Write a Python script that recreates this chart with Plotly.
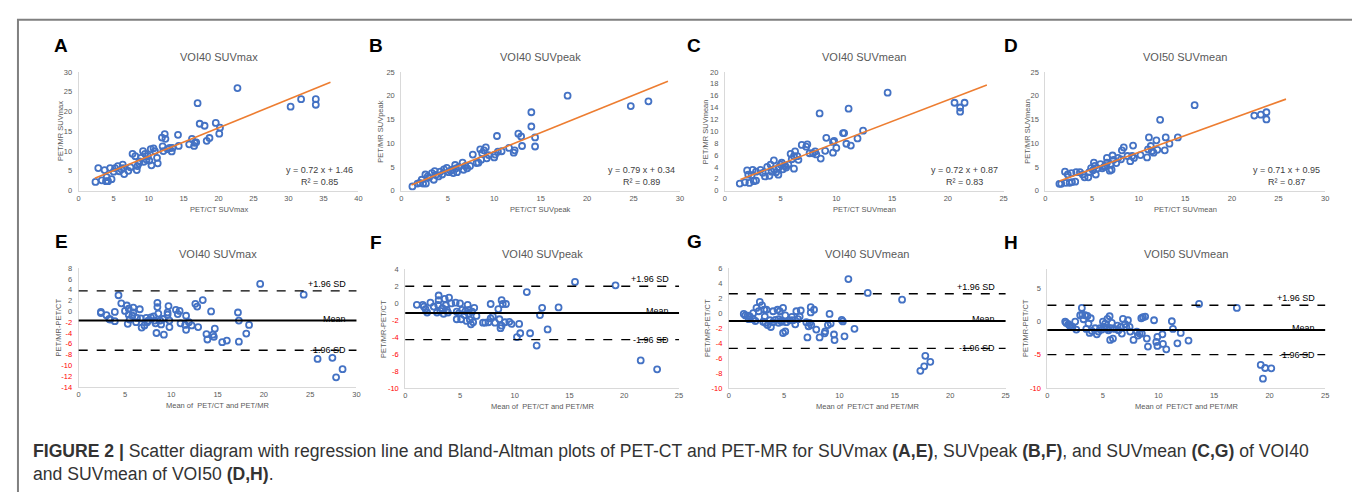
import plotly.graph_objects as go

####### DADOS #######
# A - VOI40 SUVmax: PET/CT (x) contra PET/MR (y)
a_x = [2.4, 2.8, 3.3, 3.7, 3.9, 4.0, 4.2, 4.5, 4.7, 5.0, 5.2, 5.6, 5.8, 6.1, 6.3, 6.5, 6.4,
       7.1, 7.4, 7.7, 8.1, 8.3, 8.4, 8.6, 8.7, 8.9, 9.2, 9.3, 9.5, 9.7, 9.9, 10.1, 10.3,
       10.4, 10.7, 10.9, 11.2, 11.3, 11.9, 12.0, 12.3, 12.4, 12.1, 12.7, 13.0, 13.3, 13.4,
       14.2, 14.3, 15.8, 16.2, 16.5, 16.6, 16.8, 17.0, 17.3, 18.0, 18.3, 18.7, 19.6, 20.1,
       20.2, 22.7, 30.3, 31.8, 33.9, 33.9]
a_y = [2.2, 5.7, 2.6, 5.2, 2.4, 3.4, 2.4, 5.7, 2.9, 4.8, 5.7, 6.2, 4.9, 5.4, 6.6, 4.2, 5.7,
       5.0, 5.9, 9.3, 8.7, 5.2, 6.2, 6.9, 7.4, 8.3, 10.0, 7.3, 9.3, 7.9, 8.7, 7.6, 10.5,
       6.4, 10.7, 10.0, 8.3, 6.9, 13.4, 11.2, 14.3, 13.1, 10.0, 10.5, 10.8, 9.9, 10.8,
       14.1, 11.3, 11.7, 13.1, 11.3, 12.1, 12.2, 22.1, 16.9, 16.4, 12.6, 13.3, 17.1, 14.4,
       15.9, 25.9, 21.2, 23.1, 23.1, 21.7]
a_coef = [0.72, 1.46]
a_lim = [2.3, 36.0]
a_r2 = 0.85

# B - VOI40 SUVpeak
b_x = [1.2, 1.75, 2.0, 2.2, 2.35, 2.6, 2.65, 2.85, 3.0, 3.3, 3.5, 3.6, 3.7, 4.0, 4.2, 4.4,
       4.6, 4.9, 5.1, 5.3, 5.5, 5.6, 5.8, 5.9, 6.0, 6.2, 6.6, 6.7, 6.9, 7.1, 7.4, 7.7, 8.1,
       8.3, 8.5, 8.6, 8.7, 8.9, 9.1, 9.2, 9.4, 10.0, 10.1, 10.3, 10.4, 10.8, 11.6, 12.1,
       12.2, 12.6, 12.9, 13.0, 14.0, 14.0, 14.4, 14.4, 17.9, 24.7, 26.6]
b_y = [0.9, 1.5, 1.65, 2.3, 1.5, 3.4, 1.5, 3.0, 2.75, 3.7, 2.3, 4.1, 3.3, 3.0, 4.0, 3.4,
       4.5, 4.8, 3.9, 4.2, 4.4, 3.7, 5.4, 4.7, 3.9, 5.0, 5.9, 4.4, 5.2, 4.7, 5.2, 7.6, 5.8,
       5.9, 8.7, 6.5, 7.9, 8.5, 9.1, 6.8, 7.5, 7.0, 7.6, 11.5, 8.2, 8.3, 9.0, 8.0,
       8.5, 12.0, 11.4, 9.4, 16.5, 13.5, 11.2, 9.3, 20.0, 17.8, 18.8]
b_coef = [0.79, 0.34]
b_lim = [1.1, 28.7]
b_r2 = 0.89

# C - VOI40 SUVmean
c_x = [1.34, 1.8, 2.0, 2.1, 2.2, 2.4, 2.5, 2.6, 2.8, 2.8, 3.2, 3.4, 3.6, 3.8, 4.0, 4.1,
       4.2, 4.4, 4.4, 4.6, 4.8, 4.85, 5.0, 5.1, 5.2, 5.4, 5.5, 5.7, 5.9, 6.0, 6.2, 6.2,
       6.3, 6.5, 6.6, 6.9, 7.3, 7.4, 7.6, 7.9, 8.1, 8.2, 8.5, 8.6, 9.0, 9.1, 9.7, 9.7,
       9.8, 10.0, 10.6, 10.7, 10.9, 11.1, 11.3, 11.9, 12.4, 14.6, 20.6, 21.1, 21.1, 21.5]
c_y = [1.2, 1.4, 3.4, 2.7, 1.3, 2.6, 3.5, 1.6, 1.7, 3.2, 3.5, 3.0, 2.4, 4.0, 2.5, 4.4,
       3.2, 5.1, 3.6, 3.1, 2.7, 3.9, 4.4, 4.7, 3.6, 4.2, 3.9, 4.4, 6.2, 5.3, 5.8, 3.7,
       6.6, 5.8, 5.2, 7.7, 7.4, 7.8, 6.3, 6.3, 6.6, 6.1, 13.0, 5.4, 6.7, 8.9, 8.2, 6.4,
       8.4, 7.2, 9.7, 9.7, 7.9, 13.8, 7.6, 8.8, 10.1, 16.5, 14.8, 14.0, 13.3, 14.8]
c_coef = [0.72, 0.87]
c_lim = [1.4, 23.5]
c_r2 = 0.83

# D - VOI50 SUVmean
d_x = [1.5, 1.7, 2.1, 2.2, 2.4, 2.6, 2.8, 2.85, 3.2, 3.3, 3.7, 4.0, 4.2, 4.6, 4.7, 4.9,
       5.1, 5.2, 5.3, 5.4, 5.6, 5.9, 6.1, 6.3, 6.4, 6.6, 6.6, 6.9, 7.0, 7.1, 7.2, 7.3,
       7.6, 7.8, 8.1, 8.2, 8.4, 8.8, 9.1, 9.3, 9.4, 9.5, 10.2, 10.9, 11.0, 11.1, 11.3,
       11.4, 11.6, 11.9, 12.0, 12.3, 12.8, 12.9, 13.3, 14.2, 16.0, 22.4, 23.1, 23.7, 23.7]
d_y = [1.45, 1.45, 4.0, 1.65, 3.4, 1.65, 3.7, 1.8, 1.9, 3.9, 3.9, 3.4, 2.8, 2.8, 3.9, 4.75,
       4.3, 5.9, 5.2, 3.4, 4.7, 5.6, 4.7, 5.0, 5.2, 6.9, 5.9, 4.2, 5.6, 4.4, 7.4, 6.5,
       5.8, 6.9, 6.6, 8.5, 9.1, 7.3, 6.2, 7.3, 9.5, 6.9, 7.5, 7.0, 8.7, 11.2, 9.4,
       8.3, 8.0, 10.6, 8.6, 14.9, 8.5, 11.2, 9.9, 11.2, 18.0, 15.8, 16.0, 16.5, 15.0]
d_coef = [0.71, 0.95]
d_lim = [1.5, 25.8]
d_r2 = 0.87

# E - Bland-Altman VOI40 SUVmax: media (x) e diferenca PET/MR-PET/CT (y)
e_x = [2.4, 2.4, 3.0, 3.3, 3.4, 3.9, 3.9, 4.3, 4.6, 5.0, 5.2, 5.3, 5.4, 5.4, 5.5, 5.8,
       5.9, 5.9, 6.2, 6.3, 6.6, 6.7, 6.8, 7.1, 7.3, 7.4, 7.5, 7.8, 8.1, 8.2, 8.3, 8.5,
       8.5, 8.6, 8.4, 8.8, 8.9, 9.1, 9.2, 9.6, 9.6, 9.7, 9.8, 9.8, 10.5, 10.7, 10.9,
       11.0, 11.5, 11.6, 11.6, 11.9, 12.2, 12.6, 12.8, 12.9, 13.4, 13.8, 13.9, 14.3,
       14.5, 14.6, 14.7, 15.5, 16.0, 17.2, 17.3, 17.3, 18.1, 18.4, 19.6, 24.3, 25.8,
       27.4, 27.8, 28.5]
e_y = [-0.1, -0.3, -0.7, -1.4, -1.5, -1.8, -0.1, 3.0, 1.5, 0.1, 1.1, -2.3, 0.5, -0.6,
       -1.5, -0.8, 0.7, -0.2, -2.0, -1.2, 0.4, -1.3, -3.0, -2.6, -1.2, -2.0, -1.7, -1.1,
       -0.9, -1.7, -2.2, 1.6, 0.8, -0.4, -4.0, -1.7, -2.4, -1.4, -4.3, -0.6, -0.2, 1.0,
       -1.7, -2.9, 0.3, -0.5, 0.1, -2.2, -2.5, -0.8, -3.4, -2.0, -2.6, 1.4, 0.9, -2.9,
       2.1, -4.2, -5.2, 0.0, -4.3, -4.7, -3.2, -5.7, -5.4, -0.2, -1.7, -5.6, -4.1, -2.5,
       5.1, 3.1, -8.8, -8.6, -12.2, -10.7]
e_media = -1.7
e_sup = 3.8
e_inf = -7.2

# F - Bland-Altman VOI40 SUVpeak
f_x = [1.06, 1.6, 1.7, 1.85, 2.0, 2.3, 2.6, 2.9, 3.0, 3.05, 3.05, 3.2, 3.4, 3.5, 3.6,
       3.7, 3.8, 3.9, 4.0, 4.2, 4.6, 4.7, 4.7, 4.9, 5.0, 5.1, 5.2, 5.4, 5.5, 5.6, 5.7,
       5.8, 5.8, 5.9, 6.0, 6.1, 6.2, 6.3, 6.5, 7.1, 7.3, 7.6, 7.8, 7.8, 8.0, 8.2, 8.5,
       8.6, 8.7, 8.8, 8.8, 8.9, 9.1, 9.2, 9.5, 9.7, 10.2, 10.4, 10.5, 11.1, 11.4, 12.0,
       12.3, 12.5, 13.0, 14.0, 15.5, 19.2, 21.5, 23.0]
f_y = [-0.2, -0.2, -0.4, -0.7, -1.1, 0.05, -0.4, -1.1, -0.2, 0.35, 0.9, -0.9, -0.6,
       -1.25, 0.5, -0.25, -0.8, -1.1, 0.66, -0.03, 0.05, -1.0, -1.9, -1.2, -0.03, -1.9,
       -0.8, -1.4, -0.95, -2.1, -0.2, -1.25, -0.8, -1.95, -2.5, -1.0, -2.25, -0.55,
       -1.5, -2.3, -2.3, -2.25, -0.1, -1.8, -1.55, -2.3, -0.7, -1.9, -2.95, 0.35, -2.65,
       -0.1, -2.25, -0.1, -2.2, -2.45, -4.0, -2.45, -3.55, 1.3, -3.55, -5.0, -1.4,
       -0.55, -3.1, -0.5, 2.5, 2.1, -6.75, -7.8]
f_media = -1.15
f_sup = 2.0
f_inf = -4.3

# G - Bland-Altman VOI40 SUVmean
g_x = [1.35, 1.5, 1.7, 1.8, 1.9, 2.2, 2.2, 2.4, 2.5, 2.7, 2.8, 3.0, 3.1, 3.2, 3.25,
       3.3, 3.4, 3.5, 3.7, 3.8, 4.0, 4.0, 4.2, 4.4, 4.5, 4.5, 4.6, 4.7, 4.8, 4.9, 4.9,
       5.1, 5.1, 5.2, 5.5, 5.7, 5.8, 6.0, 6.1, 6.25, 6.4, 6.5, 7.0, 7.1, 7.2, 7.3, 7.4,
       7.4, 7.45, 7.7, 7.9, 8.2, 8.65, 8.7, 8.95, 9.1, 9.2, 9.5, 9.55, 10.2, 10.3,
       10.45, 10.8, 11.35, 12.55, 15.65, 17.3, 17.65, 17.75, 18.2]
g_y = [-0.1, -0.3, -0.35, -0.8, -0.45, -0.8, 0.0, -1.05, 0.7, 0.25, 1.5, 1.05, -1.15,
       0.45, -0.45, -1.3, 0.45, -1.6, -0.95, -1.85, 0.25, -1.2, -0.9, 0.45, -0.8, -1.3,
       0.25, -1.05, -1.15, 0.7, -2.65, -0.3, -2.45, -1.2, -0.95, -0.5, -0.95, -1.5,
       0.25, -0.8, -0.45, 0.35, -1.2, -3.25, -1.75, -1.3, 0.8, 0.1, -1.6, 0.45, -2.2,
       -3.25, -2.7, -2.45, -1.6, -0.1, -1.4, -2.85, -3.6, -0.9, -1.1, -3.1, 4.55, -2.1,
       2.7, 1.8, -7.7, -7.1, -5.7, -6.5]
g_media = -1.05
g_sup = 2.6
g_inf = -4.7

# H - Bland-Altman VOI50 SUVmean
h_x = [1.6, 1.7, 1.9, 2.0, 2.1, 2.25, 2.5, 2.6, 2.95, 3.1, 3.15, 3.25, 3.4, 3.5, 3.6,
       3.7, 3.8, 3.9, 4.0, 4.3, 4.45, 4.6, 4.75, 4.9, 5.0, 5.1, 5.2, 5.35, 5.4, 5.5, 5.6,
       5.65, 5.7, 5.8, 5.9, 6.05, 6.3, 6.4, 6.6, 6.7, 6.8, 7.0, 7.1, 7.25, 7.4, 7.45,
       7.75, 8.05, 8.15, 8.3, 8.45, 8.5, 8.6, 8.8, 8.95, 9.05, 9.6, 9.8, 9.9, 9.9, 10.35,
       10.4, 10.7, 11.2, 11.3, 11.7, 12.0, 12.7, 13.65, 17.05, 19.2, 19.4, 19.6, 20.15]
h_y = [-0.05, -0.25, -0.45, -0.65, -0.85, -0.85, -0.05, -1.25, 0.9, 2.0, 1.0, 0.3, 0.9,
       -1.15, 0.8, -0.35, -1.75, 0.45, -1.45, -1.05, -1.95, -1.55, -1.05, -1.25, -0.05,
       -0.85, -0.35, -1.05, 0.35, -1.35, 0.75, -2.8, -1.05, -0.25, -2.6, -1.15, -0.65,
       -1.35, -0.85, -1.85, 0.35, -0.45, -0.85, 0.15, -0.85, -1.55, -2.8, -1.55, -2.15,
       -1.85, 0.45, -1.85, 0.6, 0.7, -2.6, -3.8, 0.15, -3.1, -2.35, -3.7, -1.95, -3.4,
       -4.2, 0.0, -1.15, -3.3, -1.75, -2.9, 2.6, 2.0, -6.55, -8.6, -7.0, -7.05]
h_media = -1.3
h_sup = 2.4
h_inf = -5.0

titulos = ["VOI40 SUVmax", "VOI40 SUVpeak", "VOI40 SUVmean", "VOI50 SUVmean",
           "VOI40 SUVmax", "VOI40 SUVpeak", "VOI40 SUVmean", "VOI50 SUVmean"]
letras = ["A", "B", "C", "D", "E", "F", "G", "H"]
x_titulos = ["PET/CT SUVmax", "PET/CT SUVpeak", "PET/CT SUVmean", "PET/CT SUVmean"] + \
            ["Mean of  PET/CT and PET/MR"] * 4
y_titulos = ["PET/MR SUVmax", "PET/MR SUVpeak", "PET/MR SUVmean", "PET/MR SUVmean"] + \
            ["PET/MR-PET/CT"] * 4
####### DADOS #######

W, H = 1360, 492
AZUL = "#4472C4"
LARANJA = "#ED7D31"
CINZA = "#595959"
FONTE = "Liberation Sans"


def dx(a, b):
    return [a / W, b / W]


def dy(topo, base):
    return [1 - base / H, 1 - topo / H]


def rotulos(vals):
    # numeros negativos em vermelho, como no Excel
    txt = []
    for v in vals:
        s = str(v)
        if v < 0:
            s = '<span style="color:#ff0000">' + s + '</span>'
        txt.append(s)
    return txt


# posicoes de cada painel em pixels: (x0, x1, topo, base)
caixas = [(69, 350, 61, 182), (393, 673, 61, 182), (718, 998, 61, 182), (1040, 1321, 61, 182),
          (69, 348, 261, 382), (397, 672, 262, 383), (722, 1000, 261, 383), (1042, 1321, 262, 383)]
x_ranges = [[0, 40], [0, 30], [0, 25], [0, 30], [0, 30], [0, 25], [0, 25], [0, 25]]
y_ranges = [[0, 30], [0, 25], [0, 20], [0, 25], [-14, 8], [-10, 4], [-10, 6], [-10, 7.8]]
y_ticks = [list(range(0, 31, 5)), list(range(0, 26, 5)), list(range(0, 21, 2)),
           list(range(0, 26, 5)), list(range(-14, 9, 2)), list(range(-10, 5, 2)),
           list(range(-10, 7, 2)), [-10, -5, 0, 5]]
letra_x = [51, 368, 687, 1005, 52, 368, 688, 1005]
ytit_x = [50, 372, 698, 1022, 49, 375, 700, 1020]

fig = go.Figure()

####### GRAFICOS DE DISPERSAO #######
dispersao = [(a_x, a_y, a_coef, a_lim, a_r2), (b_x, b_y, b_coef, b_lim, b_r2),
             (c_x, c_y, c_coef, c_lim, c_r2), (d_x, d_y, d_coef, d_lim, d_r2)]
for i, (xs, ys, coef, lim, r2) in enumerate(dispersao):
    sfx = "" if i == 0 else str(i + 1)
    fig.add_trace(go.Scatter(x=xs, y=ys, mode="markers", xaxis="x" + sfx, yaxis="y" + sfx,
                             marker=dict(symbol="circle-open", size=6, color=AZUL,
                                         line=dict(width=1.8, color=AZUL))))
    fig.add_trace(go.Scatter(x=lim, y=[coef[0] * v + coef[1] for v in lim], mode="lines",
                             xaxis="x" + sfx, yaxis="y" + sfx,
                             line=dict(color=LARANJA, width=1.6)))
    fig.add_annotation(xref="x" + sfx + " domain", yref="y" + sfx + " domain",
                       x=0.86, y=0.12, xanchor="center", yanchor="middle", showarrow=False,
                       text="y = %.2f x + %.2f<br>R² = %.2f" % (coef[0], coef[1], r2),
                       font=dict(family=FONTE, size=9, color="#404040"))

####### BLAND-ALTMAN #######
bland = [(e_x, e_y, e_media, e_sup, e_inf), (f_x, f_y, f_media, f_sup, f_inf),
         (g_x, g_y, g_media, g_sup, g_inf), (h_x, h_y, h_media, h_sup, h_inf)]
for j, (xs, ys, media, sup, inf) in enumerate(bland):
    sfx = str(j + 5)
    fig.add_trace(go.Scatter(x=xs, y=ys, mode="markers", xaxis="x" + sfx, yaxis="y" + sfx,
                             marker=dict(symbol="circle-open", size=6, color=AZUL,
                                         line=dict(width=1.8, color=AZUL))))
    for val, estilo, larg in [(media, "solid", 2), (sup, "dash", 1.4), (inf, "dash", 1.4)]:
        fig.add_shape(type="line", xref="x" + sfx + " domain", yref="y" + sfx,
                      x0=0, x1=1, y0=val, y1=val,
                      line=dict(color="black", width=larg, dash=estilo))
    for val, txt, desl in [(sup, "+1.96 SD", 7), (media, "Mean", 2), (inf, "-1.96 SD", 0)]:
        fig.add_annotation(xref="x" + sfx + " domain", yref="y" + sfx, x=0.97, y=val,
                           xanchor="right", yanchor="middle", yshift=desl, showarrow=False,
                           text=txt, font=dict(family=FONTE, size=9, color="black"))

####### EIXOS E TEXTOS #######
layout_eixos = {}
for i in range(8):
    n = "" if i == 0 else str(i + 1)
    x0, x1, topo, base = caixas[i]
    layout_eixos["xaxis" + n] = dict(
        domain=dx(x0, x1), range=x_ranges[i], dtick=5, anchor="y" + n,
        showline=True, linecolor="#d9d9d9", linewidth=1, showgrid=False, zeroline=False,
        ticks="", tickfont=dict(family=FONTE, size=7.5, color=CINZA))
    layout_eixos["yaxis" + n] = dict(
        domain=dy(topo, base), range=y_ranges[i], anchor="x" + n,
        tickmode="array", tickvals=y_ticks[i], ticktext=rotulos(y_ticks[i]),
        showline=True, linecolor="#d9d9d9", linewidth=1, showgrid=False, zeroline=False,
        ticks="", ticklabelstandoff=4, tickfont=dict(family=FONTE, size=7.5, color=CINZA))

    # titulo do painel
    fig.add_annotation(xref="paper", yref="paper", x=(x0 + x1) / 2 / W,
                       y=1 - (topo - 15) / H, showarrow=False, xanchor="center",
                       yanchor="middle", text=titulos[i],
                       font=dict(family=FONTE, size=11, color=CINZA))
    # letra do painel
    fig.add_annotation(xref="paper", yref="paper", x=letra_x[i] / W,
                       y=1 - (topo - 27) / H, showarrow=False, xanchor="center",
                       yanchor="middle", text="<b>" + letras[i] + "</b>",
                       font=dict(family=FONTE, size=19, color="black"))
    # titulo do eixo x
    fig.add_annotation(xref="paper", yref="paper", x=(x0 + x1) / 2 / W,
                       y=1 - (base + 19) / H, showarrow=False, xanchor="center",
                       yanchor="middle", text=x_titulos[i],
                       font=dict(family=FONTE, size=7.5, color=CINZA))
    # titulo do eixo y
    fig.add_annotation(xref="paper", yref="paper", x=ytit_x[i] / W,
                       y=1 - (topo + base) / 2 / H, showarrow=False, xanchor="center",
                       yanchor="middle", text=y_titulos[i], textangle=-90,
                       font=dict(family=FONTE, size=7.5, color=CINZA))

# legenda da figura
fig.add_annotation(xref="paper", yref="paper", x=21 / W, y=1 - 447 / H, showarrow=False,
                   xanchor="left", yanchor="middle",
                   text="<b>FIGURE 2 |</b> Scatter diagram with regression line and Bland-Altman "
                        "plots of PET-CT and PET-MR for SUVmax <b>(A,E)</b>, SUVpeak <b>(B,F)</b>, "
                        "and SUVmean <b>(C,G)</b> of VOI40",
                   font=dict(family=FONTE, size=17.6, color="#333333"))
fig.add_annotation(xref="paper", yref="paper", x=21 / W, y=1 - 471 / H, showarrow=False,
                   xanchor="left", yanchor="middle",
                   text="and SUVmean of VOI50 <b>(D,H)</b>.",
                   font=dict(family=FONTE, size=17.6, color="#333333"))

# moldura cinza
fig.add_shape(type="rect", xref="paper", yref="paper", x0=8 / W, x1=1351 / W,
              y0=-0.1, y1=1 - 8 / H, line=dict(color="#808080", width=2))

fig.update_layout(width=W, height=H, margin=dict(l=0, r=0, t=0, b=0),
                  paper_bgcolor="white", plot_bgcolor="white", showlegend=False,
                  **layout_eixos)

fig.write_html("out.html")
